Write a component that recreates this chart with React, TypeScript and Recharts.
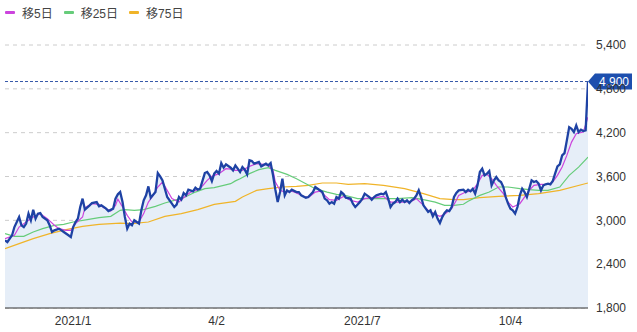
import { ComposedChart, Area, Line, XAxis, YAxis, CartesianGrid, ReferenceLine } from "recharts";

type Pt = [number, number];

// [trading day index, price]
const price: Pt[] = [
  [0, 2726], [1, 2703], [3, 2795], [4, 2908], [6, 3045], [7, 2932], [8, 2908], [9, 2955],
  [10, 3092], [11, 3000], [12, 3146], [13, 3023], [14, 3092], [15, 3100], [16, 3045], [18, 3000],
  [19, 2932], [20, 2840], [21, 2863], [23, 2886], [24, 2863], [25, 2840], [27, 2795], [28, 2772],
  [29, 2908], [30, 2977], [31, 3023], [32, 3182], [33, 3297], [34, 3146], [36, 3205], [37, 3237],
  [39, 3250], [40, 3192], [41, 3205], [43, 3160], [44, 3127], [46, 3160], [47, 3297], [48, 3356],
  [49, 3387], [50, 3250], [51, 3045], [52, 2886], [53, 2955], [54, 2932], [55, 3000], [56, 2977],
  [57, 2955], [58, 3137], [59, 3274], [60, 3342], [61, 3465], [62, 3310], [64, 3387], [65, 3647],
  [66, 3602], [67, 3547], [68, 3433], [69, 3319], [71, 3228], [72, 3182], [73, 3215], [74, 3319],
  [75, 3283], [76, 3374], [77, 3342], [78, 3420], [80, 3397], [81, 3447], [82, 3420], [83, 3433],
  [85, 3647], [86, 3661], [87, 3616], [88, 3538], [89, 3639], [90, 3675], [91, 3639], [92, 3784],
  [93, 3721], [94, 3766], [96, 3720], [97, 3684], [98, 3752], [99, 3707], [100, 3661], [101, 3729],
  [102, 3694], [103, 3629], [104, 3821], [105, 3811], [106, 3775], [108, 3798], [109, 3739], [111, 3775],
  [112, 3752], [113, 3784], [114, 3620], [115, 3420], [116, 3250], [117, 3387], [118, 3570], [119, 3342],
  [120, 3410], [121, 3387], [122, 3420], [124, 3387], [125, 3387], [126, 3342], [128, 3310], [129, 3319],
  [131, 3387], [132, 3456], [133, 3433], [135, 3387], [136, 3297], [137, 3274], [138, 3228], [139, 3250],
  [140, 3228], [141, 3319], [142, 3297], [143, 3387], [144, 3360], [145, 3310], [147, 3297], [148, 3228],
  [149, 3182], [151, 3250], [152, 3297], [153, 3365], [154, 3342], [155, 3319], [156, 3283], [157, 3319],
  [158, 3342], [160, 3365], [161, 3356], [162, 3387], [163, 3297], [164, 3182], [165, 3228], [166, 3250],
  [167, 3297], [168, 3250], [169, 3283], [170, 3250], [171, 3274], [172, 3237], [173, 3274], [174, 3297],
  [175, 3342], [176, 3410], [177, 3319], [178, 3205], [179, 3160], [180, 3114], [181, 3137], [182, 3055],
  [183, 3114], [184, 3023], [185, 2963], [186, 3045], [187, 3100], [188, 3137], [189, 3127], [190, 3182],
  [191, 3319], [192, 3374], [193, 3410], [195, 3420], [196, 3387], [197, 3420], [198, 3397], [199, 3433],
  [200, 3365], [201, 3479], [202, 3661], [203, 3707], [204, 3616], [205, 3639], [206, 3675], [207, 3479],
  [208, 3547], [209, 3593], [210, 3547], [211, 3524], [212, 3456], [213, 3319], [214, 3228], [215, 3160],
  [216, 3137], [217, 3092], [218, 3182], [219, 3342], [220, 3433], [221, 3387], [222, 3319], [223, 3433],
  [224, 3547], [225, 3524], [226, 3538], [227, 3502], [228, 3410], [229, 3479], [230, 3493], [231, 3502],
  [232, 3493], [233, 3538], [234, 3639], [235, 3739], [236, 3766], [237, 3889], [238, 3920], [239, 4094],
  [240, 4276], [241, 4254], [242, 4208], [243, 4300], [244, 4208], [245, 4241], [246, 4222], [247, 4231],
  [248, 4900],
];

const ma5: Pt[] = [
  [0, 2750], [4, 2795], [6, 2908], [9, 2977], [12, 3045], [15, 3092], [18, 3023], [21, 2932],
  [23, 2886], [26, 2863], [28, 2863], [30, 2955], [33, 3045], [34, 3173], [37, 3228], [40, 3219],
  [42, 3173], [45, 3127], [47, 3205], [48, 3290], [50, 3182], [52, 3068], [54, 2977], [57, 2977],
  [59, 3092], [61, 3250], [63, 3342], [65, 3456], [67, 3524], [69, 3410], [71, 3297], [74, 3250],
  [76, 3310], [79, 3387], [83, 3433], [86, 3547], [88, 3602], [91, 3639], [94, 3707], [96, 3700],
  [98, 3684], [101, 3684], [104, 3739], [107, 3775], [110, 3766], [112, 3752], [114, 3684], [115, 3524],
  [117, 3410], [119, 3387], [122, 3400], [124, 3374], [127, 3328], [129, 3310], [132, 3387], [134, 3400],
  [136, 3342], [138, 3283], [141, 3274], [144, 3328], [147, 3274], [150, 3250], [153, 3297], [156, 3310],
  [158, 3310], [161, 3328], [164, 3250], [167, 3250], [170, 3250], [173, 3264], [175, 3297], [178, 3205],
  [180, 3137], [183, 3082], [185, 3055], [187, 3082], [190, 3160], [192, 3274], [193, 3342], [196, 3387],
  [199, 3410], [201, 3502], [203, 3616], [205, 3629], [207, 3570], [209, 3479], [212, 3365], [214, 3250],
  [216, 3182], [219, 3228], [221, 3319], [223, 3410], [225, 3479], [228, 3493], [231, 3493], [233, 3524],
  [235, 3616], [237, 3729], [239, 3889], [241, 4071], [243, 4186], [246, 4208], [248, 4413],
];

const ma25: Pt[] = [
  [0, 2818], [4, 2781], [8, 2781], [12, 2840], [16, 2886], [21, 2932], [25, 2945], [29, 2977],
  [35, 3010], [40, 3037], [45, 3055], [49, 3137], [51, 3146], [55, 3137], [59, 3146], [64, 3192],
  [68, 3237], [72, 3274], [76, 3310], [81, 3387], [85, 3433], [89, 3447], [93, 3479], [96, 3502],
  [98, 3540], [100, 3570], [104, 3639], [108, 3694], [112, 3721], [115, 3684], [120, 3629], [124, 3570],
  [128, 3502], [132, 3433], [137, 3387], [141, 3356], [145, 3340], [150, 3297], [156, 3297], [161, 3297],
  [167, 3297], [173, 3310], [178, 3283], [183, 3250], [187, 3205], [191, 3205], [195, 3220], [197, 3260],
  [202, 3342], [206, 3387], [210, 3456], [214, 3456], [219, 3433], [223, 3420], [227, 3410], [231, 3410],
  [236, 3456], [240, 3616], [244, 3729], [248, 3866],
];

const ma75: Pt[] = [
  [0, 2613], [6, 2681], [12, 2750], [19, 2818], [26, 2873], [33, 2918], [40, 2945], [49, 2963],
  [54, 2955], [61, 2977], [68, 3055], [75, 3092], [82, 3146], [89, 3219], [98, 3260], [101, 3320],
  [107, 3410], [112, 3433], [118, 3456], [124, 3465], [129, 3479], [135, 3511], [141, 3511], [146, 3493],
  [153, 3502], [161, 3479], [170, 3433], [178, 3365], [185, 3297], [191, 3283], [195, 3283], [202, 3310],
  [210, 3328], [219, 3342], [227, 3365], [236, 3410], [248, 3511],
];

const xTickDays = [29, 90, 152, 215];
const xTickLabels = ["2021/1", "4/2", "2021/7", "10/4"];
const yTicks = [1800, 2400, 3000, 3600, 4200, 4800, 5400];
const lastPrice = 4900;

const legendItems = [
  { name: "移5日", color: "#cc44dd" },
  { name: "移25日", color: "#66cc7a" },
  { name: "移75日", color: "#f0b429" },
];

const toRows = (pts: Pt[]) => pts.map(([d, v]) => ({ d, v }));
const fmt = (v: number) => v.toLocaleString("en-US");

function PriceTag(props: any) {
  const { viewBox } = props;
  const x = viewBox.x + viewBox.width;
  const y = viewBox.y;
  return (
    <g>
      <path
        d={`M${x} ${y} L${x + 7} ${y - 8} L${x + 44} ${y - 8} L${x + 44} ${y + 8} L${x + 7} ${y + 8} Z`}
        fill="#1d4fae"
      />
      <text x={x + 26} y={y} dy="0.35em" textAnchor="middle" fill="#fff" fontSize={12}>
        {fmt(lastPrice)}
      </text>
    </g>
  );
}

export default function App() {
  const font = "'Liberation Sans', Arial, 'Noto Sans CJK JP', sans-serif";
  return (
    <div style={{ position: "absolute", left: 0, top: 0, width: 637, height: 332, fontFamily: font, background: "#fff" }}>
      <div style={{ position: "absolute", left: 5, top: 4, display: "flex", fontSize: 12, color: "#444", zIndex: 2 }}>
        {legendItems.map((it) => (
          <div key={it.name} style={{ display: "flex", alignItems: "center", marginRight: 11 }}>
            <span style={{ width: 10, height: 3, background: it.color, marginRight: 7, borderRadius: 1 }} />
            <span>{it.name}</span>
          </div>
        ))}
      </div>
      <ComposedChart width={637} height={332} margin={{ top: 45, right: 0, bottom: 0, left: 5 }}>
        <CartesianGrid vertical={false} strokeDasharray="4 4" stroke="#cccccc" />
        <XAxis
          dataKey="d"
          type="number"
          domain={[0, 248]}
          ticks={xTickDays}
          tickFormatter={(d: number) => xTickLabels[xTickDays.indexOf(d)]}
          axisLine={{ stroke: "#333" }}
          tickLine={false}
          height={24}
          tick={{ fill: "#333", fontSize: 12 }}
          allowDataOverflow
        />
        <YAxis
          orientation="right"
          domain={[1800, 5400]}
          ticks={yTicks}
          width={49}
          axisLine={false}
          tickLine={false}
          tickFormatter={fmt}
          tick={{ fill: "#333", fontSize: 12 }}
          allowDataOverflow
        />
        <Area
          data={toRows(price)}
          dataKey="v"
          type="linear"
          stroke="none"
          fill="#e6eef8"
          fillOpacity={1}
          baseValue={1800}
          isAnimationActive={false}
        />
        <Line data={toRows(ma75)} dataKey="v" type="linear" stroke="#f0b429" strokeWidth={1.2} dot={false} isAnimationActive={false} />
        <Line data={toRows(ma25)} dataKey="v" type="linear" stroke="#66cc7a" strokeWidth={1.2} dot={false} isAnimationActive={false} />
        <Line data={toRows(ma5)} dataKey="v" type="linear" stroke="#cc44dd" strokeWidth={1.2} dot={false} isAnimationActive={false} />
        <Line data={toRows(price)} dataKey="v" type="linear" stroke="#1e42a4" strokeWidth={2.3} dot={false} isAnimationActive={false} />
        <ReferenceLine y={lastPrice} stroke="#3558a8" strokeDasharray="3 2" label={<PriceTag />} />
      </ComposedChart>
    </div>
  );
}
